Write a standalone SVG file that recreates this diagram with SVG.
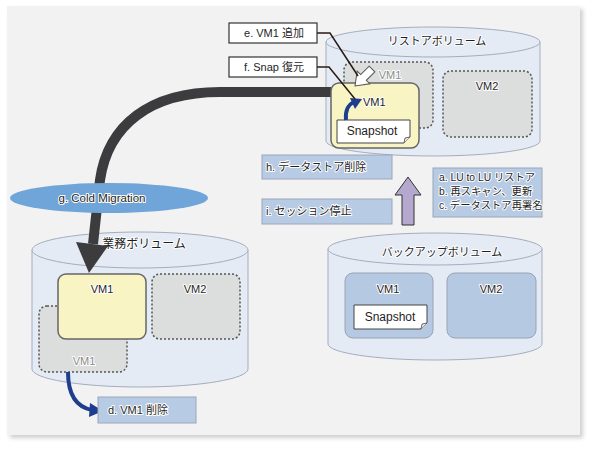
<svg xmlns="http://www.w3.org/2000/svg" width="594" height="450" viewBox="0 0 594 450">
<defs>
<style>
.t{font-family:"Liberation Sans","Noto Sans CJK JP",sans-serif;font-size:11px;fill:#1e1e1e;stroke:#fff;stroke-width:2;stroke-linejoin:round;paint-order:stroke}
.c{text-anchor:middle}
.g{fill:#8a8a8a}
.s{font-size:10.3px}
.cyl{fill:#e4ebf5;stroke:#a4adbf;stroke-width:1}
.blue{fill:#b7cbe4;stroke:#9aa6b8;stroke-width:1}
.lbl{fill:#fff;stroke:#333;stroke-width:1.2}
.vmy{fill:#f8f4c4;stroke:#666;stroke-width:1.5}
.vmg{fill:#dcdddd;stroke:#555;stroke-width:1.5;stroke-dasharray:2 2}
.vmb{fill:#b6c9e2;stroke:#9aa3b3;stroke-width:1}
.snap{fill:#fff;stroke:#444;stroke-width:1}
.lead{fill:none;stroke:#2a1a14;stroke-width:1.5}
</style>
<filter id="sh" x="-5%" y="-5%" width="110%" height="110%"><feGaussianBlur stdDeviation="2"/></filter>
</defs>

<rect x="10" y="9" width="573" height="429" fill="#cfcfcf" filter="url(#sh)"/>
<rect x="7" y="6" width="573" height="429" fill="#f2f2f2"/>

<!-- cylinders -->
<g id="restore-vol">
<path class="cyl" d="M326,42 V141 A107,15 0 0 0 540,141 V42 Z"/>
<ellipse class="cyl" cx="433" cy="42" rx="107" ry="15"/>
<text class="t c" x="437" y="45">リストアボリューム</text>
</g>
<g id="gyomu-vol">
<path class="cyl" d="M32,250 V369 A108,18 0 0 0 248,369 V250 Z"/>
<ellipse class="cyl" cx="140" cy="250" rx="108" ry="18"/>
<text class="t c" x="144" y="248" style="font-size:12px">業務ボリューム</text>
</g>
<g id="backup-vol">
<path class="cyl" d="M328,249 V344 A107,16 0 0 0 542,344 V249 Z"/>
<ellipse class="cyl" cx="435" cy="249" rx="107" ry="16"/>
<text class="t c" x="442" y="256">バックアップボリューム</text>
</g>

<!-- restore VMs -->
<g id="restore-vm1-ghost">
<rect class="vmg" x="344" y="62" width="89" height="66" rx="8"/>
<text class="t c g" x="390" y="79">VM1</text>
</g>
<g id="restore-vm2">
<rect class="vmg" x="443" y="71" width="89" height="66" rx="8"/>
<text class="t c" x="487" y="90">VM2</text>
</g>

<!-- connectors -->
<g id="connectors">
<path d="M331,92 L220,92 C150,92 108,125 100,180 L93,244" fill="none" stroke="#3c3c3e" stroke-width="10"/>
<polygon points="76,242 108,246 89,273" fill="#3c3c3e"/>
</g>

<g id="restore-vm1">
<rect class="vmy" x="331" y="83" width="88" height="65" rx="8"/>
<text class="t" x="363" y="106">VM1</text>
<path class="snap" d="M337,120 H410 V137 L404,143 H337 Z"/>
<path d="M404,143 L405,138 L410,137" fill="#eee" stroke="#444" stroke-width="0.8"/>
<text class="t c" x="372" y="135" style="font-size:12px;stroke-width:0">Snapshot</text>
<path d="M346,120 C345,110 349,104 354,102" fill="none" stroke="#1f3d8e" stroke-width="4"/>
<polygon points="350,98 362,99 355,109" fill="#1f3d8e"/>
</g>

<g id="arrow-e">
<polygon transform="translate(372,69) rotate(135)" points="0,-4 12,-4 12,-9 24,0 12,9 12,4 0,4" fill="#fff" stroke="#555" stroke-width="1"/>
</g>

<g id="label-e">
<polyline class="lead" points="317,33 330,33 358,76"/>
<rect class="lbl" x="229" y="23" width="88" height="20"/>
<text class="t c" x="274" y="37">e. VM1 追加</text>
</g>
<g id="label-f">
<polyline class="lead" points="317,67 329,67 355,99"/>
<rect class="lbl" x="229" y="57" width="88" height="20"/>
<text class="t c" x="274" y="71">f. Snap 復元</text>
</g>

<g id="label-g">
<ellipse cx="109" cy="198" rx="99" ry="15" fill="#6fa5d8"/>
<text class="t c" x="102" y="202" style="font-size:11.5px">g. Cold Migration</text>
</g>

<g id="label-h">
<rect class="blue" x="262" y="155" width="130" height="24"/>
<text class="t" x="266" y="171">h. データストア削除</text>
</g>
<g id="label-i">
<rect class="blue" x="262" y="199" width="130" height="25"/>
<text class="t" x="266" y="215">i. セッション停止</text>
</g>
<g id="label-abc">
<rect class="blue" x="433" y="168" width="109" height="49"/>
<text class="t s" x="439" y="181">a. LU to LU リストア</text>
<text class="t s" x="439" y="195">b. 再スキャン、更新</text>
<text class="t s" x="439" y="209">c. データストア再署名</text>
</g>
<g id="arrow-up">
<polygon points="408,177 421,195 414,195 414,225 402,225 402,195 395,195" fill="#b4a8cf" stroke="#333" stroke-width="1"/>
</g>

<!-- gyomu VMs -->
<g id="gyomu-vm1-ghost">
<rect class="vmg" x="39" y="306" width="88" height="66" rx="8"/>
<text class="t c g" x="84" y="365">VM1</text>
</g>
<g id="gyomu-vm2">
<rect class="vmg" x="152" y="274" width="88" height="65" rx="8"/>
<text class="t c" x="195" y="293">VM2</text>
</g>
<g id="gyomu-vm1">
<rect class="vmy" x="58" y="274" width="88" height="65" rx="8"/>
<text class="t c" x="102" y="293">VM1</text>
</g>

<g id="arrow-d">
<path d="M68,372 C68,395 76,407 92,410" fill="none" stroke="#1f3d8e" stroke-width="4"/>
<polygon points="90,403 103,411 89,417" fill="#1f3d8e"/>
</g>
<g id="label-d">
<rect class="blue" x="98" y="397" width="98" height="26"/>
<text class="t" x="108" y="414">d. VM1 削除</text>
</g>

<!-- backup VMs -->
<g id="backup-vm1">
<rect class="vmb" x="345" y="273" width="88" height="65" rx="8"/>
<text class="t c" x="388" y="293">VM1</text>
<path class="snap" d="M354,305 H427 V323 L421,329 H354 Z"/>
<path d="M421,329 L422,324 L427,323" fill="#eee" stroke="#444" stroke-width="0.8"/>
<text class="t c" x="390" y="321" style="font-size:12px;stroke-width:0">Snapshot</text>
</g>
<g id="backup-vm2">
<rect class="vmb" x="447" y="273" width="89" height="65" rx="8"/>
<text class="t c" x="491" y="293">VM2</text>
</g>
</svg>
